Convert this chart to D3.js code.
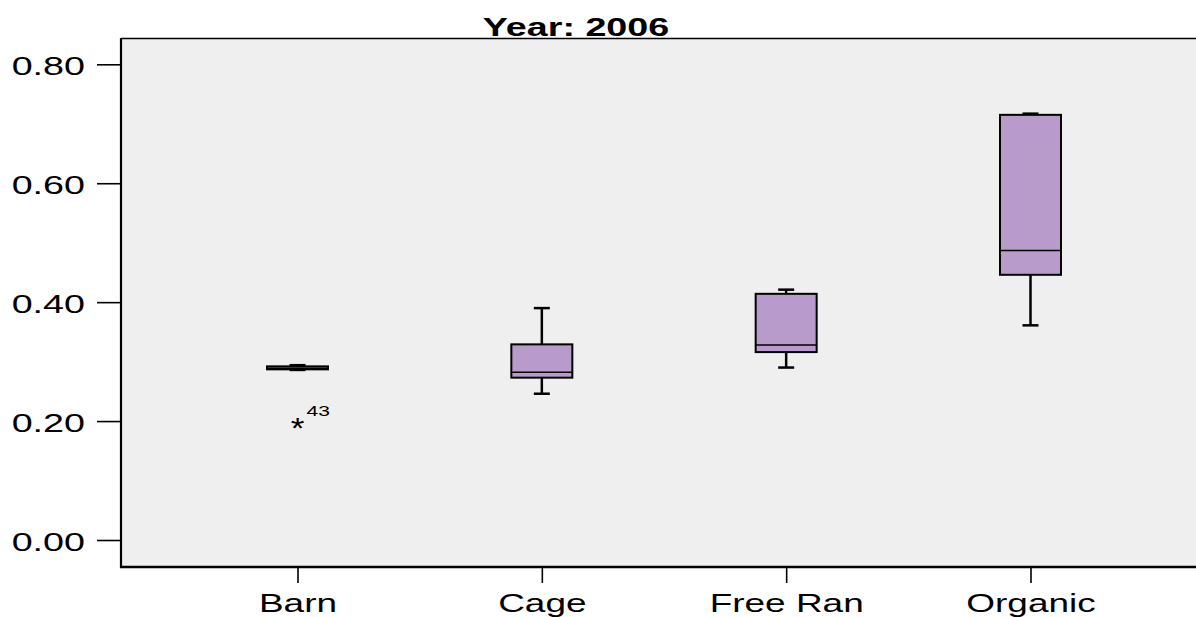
<!DOCTYPE html>
<html>
<head>
<meta charset="utf-8">
<script src="https://cdn.jsdelivr.net/npm/d3@7"></script>
<style>
  html, body { margin: 0; padding: 0; background: #ffffff; }
  svg { display: block; font-family: "Liberation Sans", Arial, sans-serif; }
</style>
</head>
<body>
<svg id="chart" width="1196" height="617"></svg>
<script>
// Egg price spread by production system, 2006
const categories = ["Barn", "Cage", "Free Ran", "Organic"];
const whiskerLow  = [0.286, 0.246, 0.290, 0.361];
const quartile1   = [0.287, 0.273, 0.316, 0.446];
const medians     = [0.289, 0.282, 0.328, 0.487];
const quartile3   = [0.292, 0.329, 0.414, 0.715];
const whiskerHigh = [0.294, 0.390, 0.421, 0.717];
const outlierCategory = ["Barn"];
const outlierValues = [0.198];
const outlierLabels = ["43"];
const yTicks = [0.0, 0.2, 0.4, 0.6, 0.8];
const title = "Year: 2006";

const plot = { left: 121, top: 38, right: 1196, bottom: 567 };
const stretch = 1.45;          // horizontally widened lettering
const boxFill = "#b89bca";

const svg = d3.select("#chart");

const x = d3.scalePoint().domain(categories).range([297.5, 1030.5]);
const y = d3.scaleLinear().domain([0, 0.8]).range([540, 64.3]);

// plot background and frame
svg.append("rect")
  .attr("x", plot.left).attr("y", plot.top)
  .attr("width", plot.right - plot.left).attr("height", plot.bottom - plot.top)
  .attr("fill", "#efefef");
svg.append("line")
  .attr("x1", plot.left).attr("x2", plot.right)
  .attr("y1", plot.top + 0.5).attr("y2", plot.top + 0.5)
  .attr("stroke", "#000").attr("stroke-width", 1.3);

// y axis
const yAxis = svg.append("g")
  .attr("transform", `translate(${plot.left},0)`)
  .call(d3.axisLeft(y).tickValues(yTicks).tickSize(24).tickSizeOuter(0)
    .tickFormat(d3.format(".2f")));
yAxis.select(".domain").remove();
yAxis.selectAll(".tick line").attr("stroke", "#000").attr("stroke-width", 1.6);
yAxis.selectAll(".tick text")
  .attr("x", null).attr("dy", null)
  .attr("text-anchor", "end")
  .attr("transform", `translate(-36,10) scale(${stretch},1)`)
  .attr("font-size", 26).attr("fill", "#000")
  .attr("font-family", "'Liberation Sans', Arial, sans-serif");
svg.append("line")
  .attr("x1", plot.left).attr("x2", plot.left)
  .attr("y1", plot.top).attr("y2", plot.bottom + 1)
  .attr("stroke", "#000").attr("stroke-width", 2.2);

// x axis
const xAxis = svg.append("g")
  .attr("transform", `translate(0,${plot.bottom})`)
  .call(d3.axisBottom(x).tickSize(16).tickSizeOuter(0));
xAxis.select(".domain").remove();
xAxis.selectAll(".tick line").attr("stroke", "#000").attr("stroke-width", 1.6);
xAxis.selectAll(".tick text")
  .attr("y", null).attr("dy", null)
  .attr("text-anchor", "middle")
  .attr("transform", `translate(0,45) scale(${stretch},1)`)
  .attr("font-size", 25.5).attr("fill", "#000")
  .attr("font-family", "'Liberation Sans', Arial, sans-serif");
svg.append("line")
  .attr("x1", plot.left - 1).attr("x2", plot.right)
  .attr("y1", plot.bottom).attr("y2", plot.bottom)
  .attr("stroke", "#000").attr("stroke-width", 2.4);

// boxes
const boxW = 61, capW = 16;
const rows = categories.map((c, i) => ({
  c, lo: whiskerLow[i], q1: quartile1[i], med: medians[i], q3: quartile3[i], hi: whiskerHigh[i]
}));
const g = svg.append("g").selectAll("g").data(rows).join("g")
  .attr("transform", d => `translate(${x(d.c)},0)`);

g.append("line").attr("x1", 0).attr("x2", 0)
  .attr("y1", d => y(d.hi)).attr("y2", d => y(d.q3))
  .attr("stroke", "#000").attr("stroke-width", 2.5);
g.append("line").attr("x1", 0).attr("x2", 0)
  .attr("y1", d => y(d.q1)).attr("y2", d => y(d.lo))
  .attr("stroke", "#000").attr("stroke-width", 2.5);
g.append("line").attr("x1", -capW / 2).attr("x2", capW / 2)
  .attr("y1", d => y(d.hi)).attr("y2", d => y(d.hi))
  .attr("stroke", "#000").attr("stroke-width", 2.5);
g.append("line").attr("x1", -capW / 2).attr("x2", capW / 2)
  .attr("y1", d => y(d.lo)).attr("y2", d => y(d.lo))
  .attr("stroke", "#000").attr("stroke-width", 2.5);
g.append("rect")
  .attr("x", -boxW / 2).attr("width", boxW)
  .attr("y", d => y(d.q3)).attr("height", d => y(d.q1) - y(d.q3))
  .attr("fill", boxFill).attr("stroke", "#000").attr("stroke-width", 2);
g.append("line").attr("x1", -boxW / 2).attr("x2", boxW / 2)
  .attr("y1", d => y(d.med)).attr("y2", d => y(d.med))
  .attr("stroke", "#000").attr("stroke-width", 1.5);

// extreme values
const outliers = outlierCategory.map((c, i) => ({ c, v: outlierValues[i], label: outlierLabels[i] }));
const og = svg.append("g").selectAll("g").data(outliers).join("g")
  .attr("transform", d => `translate(${x(d.c)},${y(d.v)})`);
og.append("text")
  .attr("text-anchor", "middle")
  .attr("transform", "translate(0,16) scale(1.3,1.1)")
  .attr("font-size", 27).attr("fill", "#000")
  .text("*");
og.append("text")
  .attr("transform", `translate(9,-6) scale(${stretch},1)`)
  .attr("font-size", 14.5).attr("fill", "#000")
  .text(d => d.label);

// title
svg.append("text")
  .attr("text-anchor", "middle")
  .attr("transform", `translate(576,36) scale(${stretch},1)`)
  .attr("font-size", 26).attr("font-weight", "bold").attr("fill", "#000")
  .text(title);
</script>
</body>
</html>
